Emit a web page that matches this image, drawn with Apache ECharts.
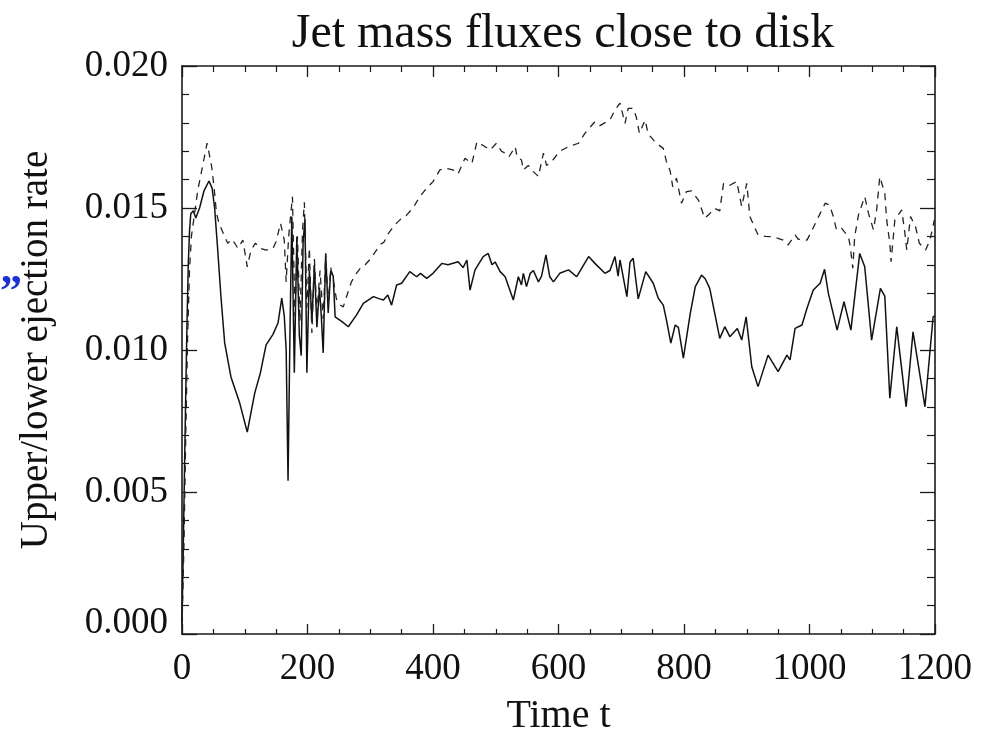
<!DOCTYPE html>
<html>
<head>
<meta charset="utf-8">
<script src="https://cdn.jsdelivr.net/npm/echarts@6/dist/echarts.min.js"></script>
<style>html,body{margin:0;padding:0;background:#fff}#c{width:993px;height:732px}</style>
</head>
<body>
<div id="c"></div>
<script>
var titleText = "Jet mass fluxes close to disk";
var xName = "Time t";
var yName = "Upper/lower ejection rate";
var xTicks = [0, 200, 400, 600, 800, 1000, 1200];
var yTicks = [0.000, 0.005, 0.010, 0.015, 0.020];

var solidT = [0,2,4,6,8,10,12,14,18,22,28,35,43,48,52,57,62,68,78,92,104,110,116,125,134,145,153,159,163,166,169,172,175,179,183,187,190,193,196,199,203,207,211,215,219,222,225,229,233,237,241,244,255,265,278,289,305,315,321,328,334,342,350,363,374,380,390,400,414,424,440,448,454,459,467,480,488,494,499,507,515,528,536,541,544,549,555,560,568,573,580,586,592,602,616,629,648,658,674,682,690,695,698,709,714,719,727,739,751,759,767,772,779,786,791,799,810,818,828,834,841,849,857,865,873,885,892,899,908,918,934,950,964,969,977,988,996,1006,1017,1024,1030,1044,1055,1066,1080,1088,1099,1113,1120,1128,1139,1154,1165,1184,1197,1200];
var solidV = [0.0004,0.0030,0.0058,0.0085,0.0110,0.0130,0.0142,0.0148,0.0149,0.01465,0.0150,0.0156,0.01595,0.0157,0.0150,0.0135,0.0119,0.01025,0.00905,0.00813,0.00711,0.0078,0.00849,0.0092,0.01018,0.01055,0.01095,0.01183,0.0112,0.0100,0.0054,0.0105,0.0147,0.0092,0.0140,0.0105,0.0098,0.0138,0.0146,0.0092,0.0128,0.0110,0.0130,0.0108,0.0122,0.0112,0.0099,0.0134,0.0113,0.0128,0.0126,0.01117,0.0110,0.01082,0.01123,0.01164,0.01188,0.0118,0.01176,0.01194,0.01158,0.01229,0.01235,0.01276,0.01258,0.0127,0.01252,0.0127,0.01305,0.0130,0.01311,0.0129,0.01317,0.01211,0.01282,0.01329,0.0134,0.0130,0.0131,0.01276,0.01258,0.01176,0.01258,0.01229,0.0127,0.01223,0.0127,0.0128,0.0124,0.0126,0.01335,0.01258,0.0124,0.0127,0.01282,0.01258,0.01329,0.01305,0.0127,0.0128,0.01329,0.0126,0.01317,0.01188,0.0131,0.01323,0.0118,0.01276,0.01235,0.01182,0.01158,0.01106,0.01024,0.01088,0.0108,0.00971,0.01129,0.01223,0.01264,0.0125,0.01217,0.01129,0.01041,0.01082,0.01047,0.01076,0.01035,0.01117,0.00941,0.00871,0.00982,0.00924,0.00982,0.00965,0.01076,0.01088,0.01147,0.01211,0.01235,0.01284,0.0120,0.0107,0.0117,0.0107,0.0134,0.01293,0.01035,0.01217,0.0119,0.0083,0.01082,0.0080,0.01064,0.0080,0.01117,0.0112];

var dashT = [0,3,6,9,12,15,20,25,33,40,47,51,55,59,68,73,79,84,89,97,104,110,117,124,134,145,150,157,163,166,170,176,180,184,188,192,195,199,203,207,211,215,220,225,229,233,237,241,246,251,257,264,270,278,286,292,300,310,315,322,329,339,348,358,368,379,390,400,411,420,432,440,451,462,470,480,491,501,509,515,521,531,534,541,544,552,560,568,576,581,589,602,616,632,642,658,666,682,690,698,706,711,719,724,729,738,743,756,767,772,778,782,788,796,804,812,823,833,841,849,857,863,873,884,892,900,905,918,930,942,958,966,977,982,996,1003,1017,1025,1032,1038,1043,1051,1062,1065,1069,1072,1078,1088,1094,1102,1107,1112,1120,1123,1128,1130,1136,1147,1152,1155,1161,1169,1175,1185,1192,1199];
var dashV = [0.0002,0.0030,0.0070,0.0105,0.0128,0.0140,0.0148,0.0156,0.0165,0.01728,0.0165,0.01575,0.01481,0.01446,0.01399,0.01376,0.0139,0.01376,0.01358,0.01387,0.01293,0.01352,0.01376,0.01358,0.01352,0.01358,0.01382,0.01446,0.01387,0.0124,0.0140,0.0154,0.0112,0.0140,0.0110,0.0142,0.0152,0.0115,0.0136,0.0106,0.0132,0.0113,0.0128,0.0111,0.0134,0.0116,0.0129,0.0125,0.0118,0.0116,0.01152,0.0120,0.0124,0.0127,0.01293,0.0130,0.0132,0.01352,0.0137,0.0138,0.01411,0.0144,0.0146,0.01475,0.0150,0.0154,0.0157,0.01593,0.01634,0.0164,0.01634,0.0162,0.01675,0.01657,0.01733,0.0172,0.01704,0.01728,0.0170,0.01693,0.0168,0.01716,0.0168,0.01669,0.01634,0.0165,0.01628,0.01611,0.01693,0.0165,0.01663,0.0170,0.01716,0.01728,0.01763,0.01804,0.0179,0.0181,0.01845,0.01869,0.01798,0.01851,0.01851,0.0182,0.01763,0.0181,0.0176,0.01728,0.0171,0.01663,0.0163,0.01575,0.01605,0.01517,0.01558,0.0156,0.01528,0.01464,0.0148,0.01499,0.0149,0.01587,0.0158,0.01593,0.01505,0.01587,0.0147,0.01405,0.0140,0.01399,0.01387,0.0137,0.01405,0.0139,0.01387,0.01417,0.01481,0.01517,0.0151,0.0147,0.01423,0.01429,0.01399,0.01364,0.01288,0.01399,0.01475,0.0154,0.01481,0.01423,0.01493,0.0161,0.01552,0.01458,0.01376,0.01311,0.01458,0.01493,0.01411,0.01352,0.0147,0.01434,0.01376,0.01352,0.01387,0.01458];

function pairs(t, v) { return t.map(function (x, i) { return [x, v[i]]; }); }

var FONT = '"Liberation Serif", "DejaVu Serif", serif';
var AX = '#1a1a1a';
function axisBase(extra) {
  return Object.assign({
    type: 'value',
    axisLine: { show: true, onZero: false, lineStyle: { color: AX, width: 1.6 } },
    splitLine: { show: false },
    minorSplitLine: { show: false }
  }, extra);
}
var chart = echarts.init(document.getElementById('c'), null, { renderer: 'canvas' });
chart.setOption({
  animation: false,
  backgroundColor: '#ffffff',
  title: {
    text: titleText, left: 558, top: 5, textAlign: 'center',
    textStyle: { fontFamily: FONT, fontWeight: 'normal', fontSize: 48, color: '#111' }
  },
  grid: { left: 182, right: 58, top: 66, bottom: 98, containLabel: false, outerBoundsMode: 'none' },
  xAxis: [
    axisBase({
      position: 'bottom', min: xTicks[0], max: xTicks[xTicks.length - 1], interval: 200,
      axisTick: { show: true, inside: true, length: 10, lineStyle: { color: AX, width: 1.3 } },
      minorTick: { show: true, splitNumber: 4, length: 5, lineStyle: { color: AX, width: 1.2 } },
      axisLabel: { margin: 17, fontFamily: FONT, fontSize: 37, color: '#111',
        formatter: function (v) { return String(v); } },
      name: xName, nameLocation: 'middle', nameGap: 62,
      nameTextStyle: { fontFamily: FONT, fontSize: 40, color: '#111' }
    }),
    axisBase({
      position: 'top', min: xTicks[0], max: xTicks[xTicks.length - 1], interval: 200,
      axisTick: { show: true, inside: true, length: 11, lineStyle: { color: AX, width: 1.3 } },
      minorTick: { show: true, splitNumber: 4, length: 6, lineStyle: { color: AX, width: 1.2 } },
      axisLabel: { show: false }
    })
  ],
  yAxis: [
    axisBase({
      position: 'left', min: yTicks[0], max: yTicks[yTicks.length - 1], interval: 0.005,
      axisTick: { show: true, inside: true, length: 15, lineStyle: { color: AX, width: 1.3 } },
      minorTick: { show: true, splitNumber: 5, length: 7, lineStyle: { color: AX, width: 1.2 } },
      axisLabel: { margin: 14, fontFamily: FONT, fontSize: 37, color: '#111',
        formatter: function (v) { return v === 0 ? '{z|' + v.toFixed(3) + '}' : v.toFixed(3); },
        rich: { z: { fontFamily: FONT, fontSize: 37, color: '#111', padding: [0, 0, 22, 0] } } },
      name: yName, nameLocation: 'middle', nameGap: 126, nameRotate: 90,
      nameTextStyle: { fontFamily: FONT, fontSize: 39, color: '#111' }
    }),
    axisBase({
      position: 'right', min: yTicks[0], max: yTicks[yTicks.length - 1], interval: 0.005,
      axisTick: { show: true, inside: true, length: 15, lineStyle: { color: AX, width: 1.3 } },
      minorTick: { show: true, splitNumber: 5, length: 8, lineStyle: { color: AX, width: 1.2 } },
      axisLabel: { show: false }
    })
  ],
  graphic: [{
    type: 'text', left: 0, top: 272,
    style: { text: '\u201D', fontFamily: FONT, fontWeight: 'bold', fontSize: 44, fill: '#1a2fe0' }
  }],
  series: [
    {
      name: 'lower', type: 'line', xAxisIndex: 0, yAxisIndex: 0, showSymbol: false, symbol: 'none',
      data: pairs(solidT, solidV),
      lineStyle: { color: '#111', width: 1.5 }
    },
    {
      name: 'upper', type: 'line', xAxisIndex: 0, yAxisIndex: 0, showSymbol: false, symbol: 'none',
      data: pairs(dashT, dashV),
      lineStyle: { color: '#222', width: 1.3, type: [7, 6] }
    }
  ]
});
</script>
</body>
</html>
